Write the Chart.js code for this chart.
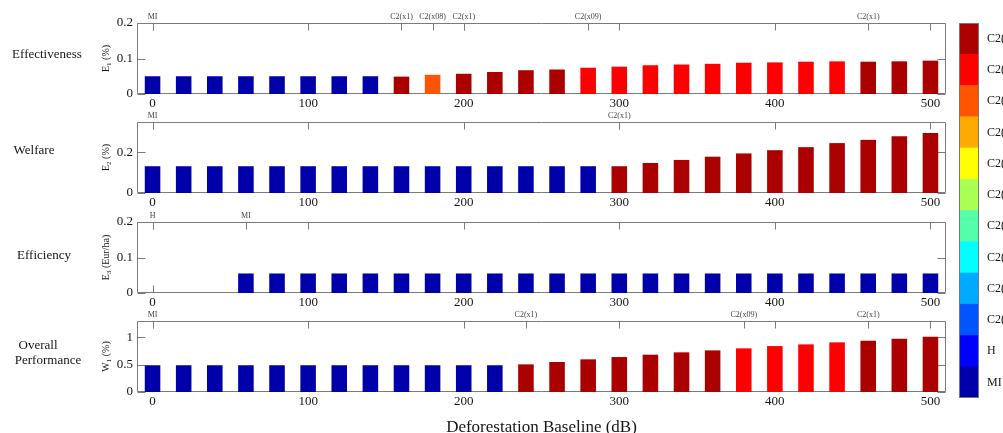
<!DOCTYPE html>
<html>
<head>
<meta charset="utf-8">
<title>Deforestation baseline indicators</title>
<script src="https://cdn.jsdelivr.net/npm/chart.js@4.4.0/dist/chart.umd.min.js"></script>
<style>
  body { margin: 0; background: #fff; }
  #wrap { position: relative; width: 1003px; height: 433px; overflow: hidden; }
  #wrap canvas { position: absolute; }
</style>
</head>
<body>
<div id="wrap">
  <canvas id="p1" width="960" height="116" style="left:0;top:0"></canvas>
  <canvas id="p2" width="960" height="116" style="left:0;top:99px"></canvas>
  <canvas id="p3" width="960" height="116" style="left:0;top:199px"></canvas>
  <canvas id="p4" width="960" height="138" style="left:0;top:298px"></canvas>
  <canvas id="cbar" width="48" height="433" style="left:955px;top:0"></canvas>
</div>
<script>
// bar positions (deforestation baseline, dB)
const baseline = [0, 20, 40, 60, 80, 100, 120, 140, 160, 180, 200, 220, 240, 260, 280, 300, 320, 340, 360, 380, 400, 420, 440, 460, 480, 500];
const xTicks = [0, 100, 200, 300, 400, 500];

// E1 effectiveness (%)
const effectiveness = [0.050, 0.050, 0.050, 0.050, 0.050, 0.050, 0.050, 0.050, 0.049, 0.054, 0.057, 0.062, 0.067, 0.069, 0.074, 0.077, 0.081, 0.083, 0.085, 0.088, 0.089, 0.091, 0.092, 0.091, 0.092, 0.094];
const effectivenessClass = ['MI', 'MI', 'MI', 'MI', 'MI', 'MI', 'MI', 'MI', 'C2(x1)', 'C2(x08)', 'C2(x1)', 'C2(x1)', 'C2(x1)', 'C2(x1)', 'C2(x09)', 'C2(x09)', 'C2(x09)', 'C2(x09)', 'C2(x09)', 'C2(x09)', 'C2(x09)', 'C2(x09)', 'C2(x09)', 'C2(x1)', 'C2(x1)', 'C2(x1)'];
const effectivenessTicks = [0, 0.1, 0.2];

// E2 welfare (%)
const welfare = [0.132, 0.132, 0.132, 0.132, 0.132, 0.132, 0.132, 0.132, 0.132, 0.132, 0.132, 0.132, 0.132, 0.132, 0.132, 0.132, 0.148, 0.163, 0.179, 0.195, 0.211, 0.226, 0.246, 0.262, 0.280, 0.296];
const welfareClass = ['MI', 'MI', 'MI', 'MI', 'MI', 'MI', 'MI', 'MI', 'MI', 'MI', 'MI', 'MI', 'MI', 'MI', 'MI', 'C2(x1)', 'C2(x1)', 'C2(x1)', 'C2(x1)', 'C2(x1)', 'C2(x1)', 'C2(x1)', 'C2(x1)', 'C2(x1)', 'C2(x1)', 'C2(x1)'];
const welfareTicks = [0, 0.2];

// E3 efficiency (Eur/ha)
const efficiency = [0, 0, 0, 0.055, 0.055, 0.055, 0.055, 0.055, 0.055, 0.055, 0.055, 0.055, 0.055, 0.055, 0.055, 0.055, 0.055, 0.055, 0.055, 0.055, 0.055, 0.055, 0.055, 0.055, 0.055, 0.055];
const efficiencyClass = ['H', 'H', 'H', 'MI', 'MI', 'MI', 'MI', 'MI', 'MI', 'MI', 'MI', 'MI', 'MI', 'MI', 'MI', 'MI', 'MI', 'MI', 'MI', 'MI', 'MI', 'MI', 'MI', 'MI', 'MI', 'MI'];
const efficiencyTicks = [0, 0.1, 0.2];

// W1 overall performance (%)
const overall = [0.49, 0.49, 0.49, 0.49, 0.49, 0.49, 0.49, 0.49, 0.49, 0.49, 0.49, 0.49, 0.506, 0.549, 0.598, 0.640, 0.683, 0.726, 0.762, 0.799, 0.841, 0.872, 0.909, 0.939, 0.976, 1.012];
const overallClass = ['MI', 'MI', 'MI', 'MI', 'MI', 'MI', 'MI', 'MI', 'MI', 'MI', 'MI', 'MI', 'C2(x1)', 'C2(x1)', 'C2(x1)', 'C2(x1)', 'C2(x1)', 'C2(x1)', 'C2(x1)', 'C2(x09)', 'C2(x09)', 'C2(x09)', 'C2(x09)', 'C2(x1)', 'C2(x1)', 'C2(x1)'];
const overallTicks = [0, 0.5, 1];

// colorbar, top to bottom
const legendNames = ['C2(x1)', 'C2(x09)', 'C2(x08)', 'C2(x07)', 'C2(x06)', 'C2(x05)', 'C2(x04)', 'C2(x03)', 'C2(x02)', 'C2(x01)', 'H', 'MI'];
const legendColors = ['#aa0000', '#ff0000', '#ff5500', '#ffaa00', '#ffff00', '#aaff55', '#55ffaa', '#00ffff', '#00aaff', '#0055ff', '#0000ff', '#0000aa'];

const serif = "'Liberation Serif', 'Times New Roman', serif";
const axisGrey = '#7b7b7b';
const textColor = '#151515';

Chart.defaults.font.family = serif;
Chart.defaults.color = textColor;

function colorOf(name) {
  return legendColors[legendNames.indexOf(name)];
}

// rotated y title with a subscript, e.g. E_1 (%)
function drawYTitle(ctx, parts, cx, cy) {
  ctx.save();
  ctx.translate(cx, cy);
  ctx.rotate(-Math.PI / 2);
  ctx.textBaseline = 'middle';
  ctx.fillStyle = textColor;
  ctx.font = '10px ' + serif;
  const w0 = ctx.measureText(parts[0]).width;
  const w2 = ctx.measureText(parts[2]).width;
  ctx.font = '7px ' + serif;
  const w1 = ctx.measureText(parts[1]).width;
  const x0 = -(w0 + w1 + w2) / 2;
  ctx.font = '10px ' + serif;
  ctx.fillText(parts[0], x0, 0);
  ctx.font = '7px ' + serif;
  ctx.fillText(parts[1], x0 + w0, 3);
  ctx.font = '10px ' + serif;
  ctx.fillText(parts[2], x0 + w0 + w1, 0);
  ctx.restore();
}

// box, inward ticks, class labels on the top edge, titles
const panelDeco = {
  id: 'panelDeco',
  beforeDatasetsDraw(chart, args, opts) {
    const ctx = chart.ctx, a = chart.chartArea;
    const xs = chart.scales.x, ys = chart.scales.y;
    const L = Math.round(a.left) + 0.5, R = Math.round(a.right) - 0.5;
    const T = Math.round(a.top) + 0.5, B = Math.round(a.bottom) - 0.5;
    ctx.save();
    ctx.strokeStyle = axisGrey;
    ctx.lineWidth = 1;
    ctx.beginPath();
    ctx.rect(L, T, R - L, B - T);
    xs.ticks.forEach(t => {
      const px = Math.round(xs.getPixelForValue(t.value)) + 0.5;
      ctx.moveTo(px, T); ctx.lineTo(px, T + 7);
      ctx.moveTo(px, B); ctx.lineTo(px, B - 7);
    });
    ys.ticks.forEach(t => {
      const py = Math.round(ys.getPixelForValue(t.value)) + 0.5;
      ctx.moveTo(L, py); ctx.lineTo(L + 8, py);
      ctx.moveTo(R, py); ctx.lineTo(R - 8, py);
    });
    // a tick wherever the best class changes
    opts.classes.forEach((c, i) => {
      if (i > 0 && c === opts.classes[i - 1]) return;
      const px = Math.round(xs.getPixelForValue(baseline[i])) + 0.5;
      ctx.moveTo(px, T); ctx.lineTo(px, T + 7);
    });
    ctx.stroke();
    ctx.restore();
  },
  afterDraw(chart, args, opts) {
    const ctx = chart.ctx, a = chart.chartArea, xs = chart.scales.x;
    ctx.save();
    ctx.fillStyle = '#444';
    ctx.font = '8px ' + serif;
    ctx.textAlign = 'center';
    ctx.textBaseline = 'middle';
    opts.classes.forEach((c, i) => {
      if (i > 0 && c === opts.classes[i - 1]) return;
      ctx.fillText(c, xs.getPixelForValue(baseline[i]), a.top - 6);
    });
    ctx.fillStyle = textColor;
    ctx.font = '13px ' + serif;
    opts.rows.forEach(r => ctx.fillText(r.text, r.x, r.y));
    ctx.restore();
    drawYTitle(ctx, opts.yTitle, 106, (a.top + a.bottom) / 2);
  }
};

function makePanel(id, values, classes, yMax, yTicks, yTitle, rows, last) {
  const canvasH = last ? 138 : 116;
  return new Chart(document.getElementById(id), {
    type: 'bar',
    data: {
      datasets: [{
        data: baseline.map((x, i) => ({ x: x, y: values[i] })),
        backgroundColor: classes.map(colorOf),
        borderWidth: 0,
        barPercentage: 0.5,
        categoryPercentage: 1
      }]
    },
    options: {
      responsive: false,
      animation: false,
      devicePixelRatio: 1,
      events: [],
      layout: { padding: { left: 0, top: 23, right: 14, bottom: 0 } },
      plugins: {
        legend: { display: false },
        tooltip: { enabled: false },
        panelDeco: { classes: classes, yTitle: yTitle, rows: rows }
      },
      scales: {
        x: {
          type: 'linear',
          min: -10,
          max: 510,
          offset: false,
          grid: { display: false, drawTicks: false },
          border: { display: false },
          afterBuildTicks: s => { s.ticks = xTicks.map(v => ({ value: v })); },
          ticks: { font: { size: 13 }, color: textColor, padding: 2, maxRotation: 0, autoSkip: false, callback: v => String(v) },
          title: { display: last, text: 'Deforestation Baseline (dB)', font: { size: 17, lineHeight: 1 }, padding: 0, color: textColor },
          afterFit: s => { s.height = canvasH - 94; }
        },
        y: {
          min: 0,
          max: yMax,
          grid: { display: false, drawTicks: false },
          border: { display: false },
          afterBuildTicks: s => { s.ticks = yTicks.map(v => ({ value: v })); },
          ticks: { font: { size: 13 }, color: textColor, padding: 4, callback: v => String(v) },
          afterFit: s => { s.width = 137; }
        }
      }
    },
    plugins: [panelDeco]
  });
}

makePanel('p1', effectiveness, effectivenessClass, 0.2, effectivenessTicks, ['E', '1', ' (%)'],
  [{ text: 'Effectiveness', x: 47, y: 55 }], false);
makePanel('p2', welfare, welfareClass, 0.35, welfareTicks, ['E', '2', ' (%)'],
  [{ text: 'Welfare', x: 34, y: 52 }], false);
makePanel('p3', efficiency, efficiencyClass, 0.2, efficiencyTicks, ['E', '3', ' (Eur/ha)'],
  [{ text: 'Efficiency', x: 44, y: 57 }], false);
makePanel('p4', overall, overallClass, 1.3, overallTicks, ['W', '1', ' (%)'],
  [{ text: 'Overall', x: 38, y: 48 }, { text: 'Performance', x: 48, y: 63 }], true);

// colorbar: one stacked column, labels on the right (clipped by the page edge)
const cbarBox = {
  id: 'cbarBox',
  afterDatasetsDraw(chart) {
    const a = chart.chartArea, ctx = chart.ctx;
    ctx.save();
    ctx.strokeStyle = '#777';
    ctx.strokeRect(Math.round(a.left) + 0.5, Math.round(a.top) + 0.5, Math.round(a.right - a.left) - 1, Math.round(a.bottom - a.top) - 1);
    ctx.restore();
  }
};

new Chart(document.getElementById('cbar'), {
  type: 'bar',
  data: {
    labels: [''],
    datasets: legendNames.map((n, i) => ({
      label: n,
      data: [1],
      backgroundColor: legendColors[i],
      borderWidth: 0,
      barPercentage: 1,
      categoryPercentage: 1
    })).reverse()
  },
  options: {
    responsive: false,
    animation: false,
    devicePixelRatio: 1,
    events: [],
    layout: { padding: { left: 4, top: 23, right: 0, bottom: 35 } },
    plugins: { legend: { display: false }, tooltip: { enabled: false } },
    scales: {
      x: { stacked: true, display: false },
      y: {
        stacked: true,
        position: 'right',
        min: 0,
        max: 12,
        grid: { display: false, drawTicks: false },
        border: { display: false },
        afterBuildTicks: s => { s.ticks = legendNames.map((n, i) => ({ value: 11.5 - i })); },
        ticks: { font: { size: 12 }, color: textColor, padding: 8, autoSkip: false, callback: (v, i) => legendNames[i] },
        afterFit: s => { s.width = 24; }
      }
    }
  },
  plugins: [cbarBox]
});
</script>
</body>
</html>
